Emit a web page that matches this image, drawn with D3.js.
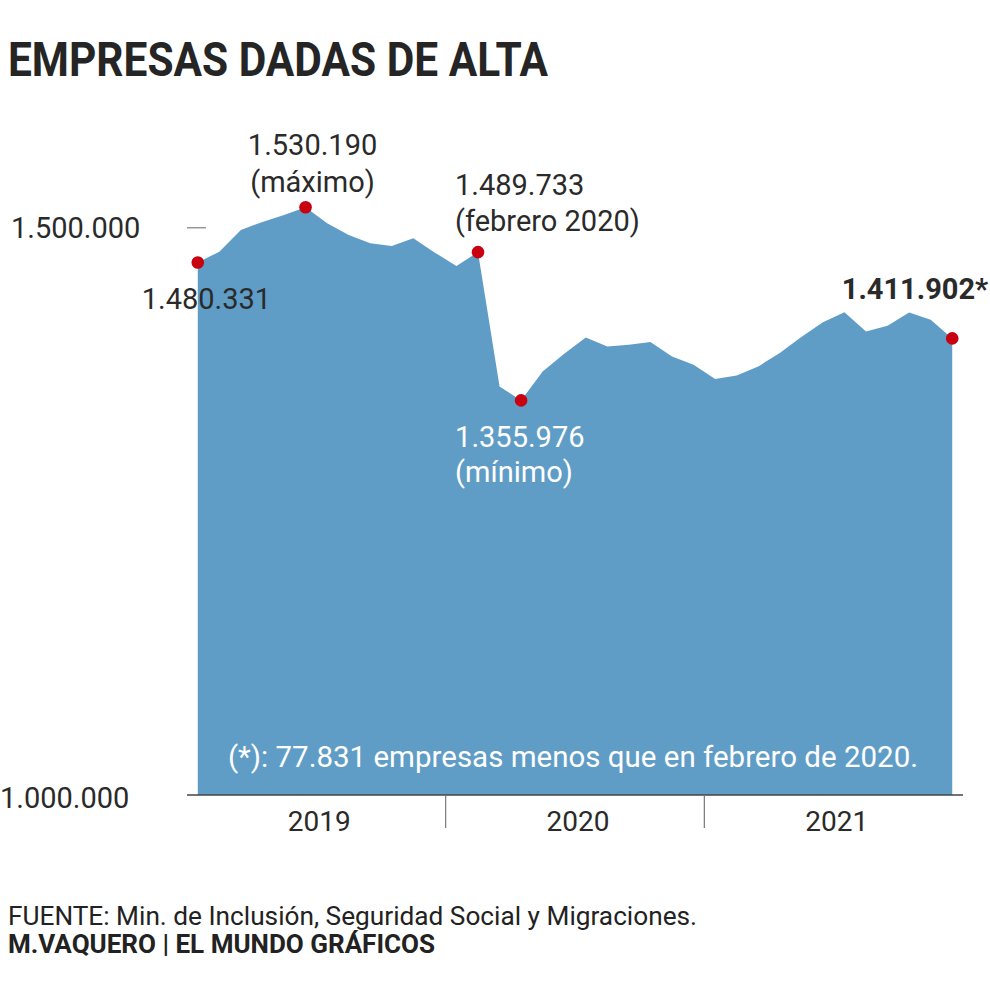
<!DOCTYPE html>
<html>
<head>
<meta charset="utf-8">
<script src="https://cdn.jsdelivr.net/npm/d3@7"></script>
<style>
  html, body { margin: 0; padding: 0; background: #fff; }
  svg { display: block; font-family: Roboto, "Noto Sans", sans-serif; }
</style>
</head>
<body>
<div id="chart"></div>
<script>
// Empresas dadas de alta en la Seguridad Social, enero 2019 - diciembre 2021 (mensual)
const months = [
  '2019-01','2019-02','2019-03','2019-04','2019-05','2019-06',
  '2019-07','2019-08','2019-09','2019-10','2019-11','2019-12',
  '2020-01','2020-02','2020-03','2020-04','2020-05','2020-06',
  '2020-07','2020-08','2020-09','2020-10','2020-11','2020-12',
  '2021-01','2021-02','2021-03','2021-04','2021-05','2021-06',
  '2021-07','2021-08','2021-09','2021-10','2021-11','2021-12'
];
const companies = [
  1480331, 1490200, 1509740, 1516950, 1523250, 1530190,
  1515780, 1505240, 1497760, 1495330, 1502270, 1489290,
  1477310, 1489733, 1368590, 1355976, 1382100, 1398040,
  1412730, 1404620, 1406150, 1408580, 1395610, 1388130,
  1375250, 1378500, 1386600, 1398670, 1413090, 1426600,
  1435610, 1418130, 1423270, 1435250, 1428670, 1411902
];
const years = ['2019', '2020', '2021'];
const yTicks = [1000000, 1500000];
// months that get a red dot
const marked = ['2019-01', '2019-06', '2020-02', '2020-04', '2021-12'];

const W = 990, H = 994;
const fmt = d3.formatLocale({ decimal: ',', thousands: '.', grouping: [3], currency: ['', '€'] }).format(',d');

const svg = d3.select('#chart').append('svg')
  .attr('width', W).attr('height', H)
  .attr('viewBox', `0 0 ${W} ${H}`);

svg.append('rect').attr('width', W).attr('height', H).attr('fill', '#fff');

// title
svg.append('text')
  .attr('x', 8).attr('y', 76)
  .attr('font-size', 48).attr('font-weight', 700).attr('fill', '#252525')
  .attr('textLength', 540).attr('lengthAdjust', 'spacingAndGlyphs')
  .text('EMPRESAS DADAS DE ALTA');

// scales: one band per month, points sit in the middle of each month
const x = d3.scaleLinear().domain([0, months.length]).range([187, 963]);
const y = d3.scaleLinear().domain([1000000, 1530190]).range([795, 207.3]);
const xm = i => x(i + 0.5);

const area = d3.area()
  .x((d, i) => xm(i))
  .y0(y(1000000))
  .y1(d => y(d));

svg.append('path')
  .datum(companies)
  .attr('d', area)
  .attr('fill', '#5f9dc6');

// footnote inside the area
svg.append('text')
  .attr('x', 228).attr('y', 767)
  .attr('font-size', 29).attr('fill', '#fff')
  .attr('textLength', 690).attr('lengthAdjust', 'spacingAndGlyphs')
  .text('(*): 77.831 empresas menos que en febrero de 2020.');

// x axis baseline + year separators
svg.append('line')
  .attr('x1', x(0)).attr('x2', x(months.length))
  .attr('y1', y(1000000)).attr('y2', y(1000000))
  .attr('stroke', '#444').attr('stroke-width', 1.5);

[12, 24].forEach(i => {
  svg.append('line')
    .attr('x1', x(i)).attr('x2', x(i))
    .attr('y1', y(1000000)).attr('y2', y(1000000) + 33)
    .attr('stroke', '#777').attr('stroke-width', 1.2);
});

svg.selectAll('.year').data(years).join('text')
  .attr('class', 'year')
  .attr('x', (d, i) => x(i * 12 + 6) + 3)
  .attr('y', 831)
  .attr('text-anchor', 'middle')
  .attr('font-size', 28).attr('fill', '#2a2a2a')
  .text(d => d);

// y tick labels (the top one sits a little above its value in the original)
yTicks.forEach(v => {
  const ty = v === 1000000 ? y(v) + 13 : y(v) - 2.5;
  svg.append('text')
    .attr('x', v === 1000000 ? 0 : 11).attr('y', ty)
    .attr('font-size', 29).attr('fill', '#2a2a2a')
    .text(fmt(v));
  if (v !== 1000000) {
    svg.append('line')
      .attr('x1', x(0)).attr('x2', x(0) + 19)
      .attr('y1', ty - 10.5).attr('y2', ty - 10.5)
      .attr('stroke', '#888').attr('stroke-width', 1.3);
  }
});

// red dots
const markIdx = marked.map(m => months.indexOf(m));
svg.selectAll('.dot').data(markIdx).join('circle')
  .attr('class', 'dot')
  .attr('cx', i => xm(i)).attr('cy', i => y(companies[i]))
  .attr('r', 6.3)
  .attr('fill', '#c8000f');

// annotations
function note(i, dx, lines, opts = {}) {
  const px = xm(i), py = y(companies[i]);
  lines.forEach(([dy, txt]) => {
    svg.append('text')
      .attr('x', px + dx).attr('y', py + dy)
      .attr('text-anchor', opts.anchor || 'start')
      .attr('font-size', 29)
      .attr('font-weight', opts.bold ? 700 : 400)
      .attr('fill', opts.fill || '#2a2a2a')
      .text(txt);
  });
}
const iFirst = markIdx[0], iMax = markIdx[1], iFeb = markIdx[2], iMin = markIdx[3], iLast = markIdx[4];
note(iFirst, -56, [[46, fmt(companies[iFirst])]]);
note(iMax, 7, [[-52, fmt(companies[iMax])], [-15, '(máximo)']], { anchor: 'middle' });
note(iFeb, -23, [[-57, fmt(companies[iFeb])], [-21, '(febrero 2020)']]);
note(iMin, -66, [[47, fmt(companies[iMin])], [82, '(mínimo)']], { fill: '#fff' });
note(iLast, 36, [[-39, fmt(companies[iLast]) + '*']], { anchor: 'end', bold: true });

// footer
svg.append('text')
  .attr('x', 8).attr('y', 925)
  .attr('font-size', 25).attr('fill', '#222')
  .attr('textLength', 689).attr('lengthAdjust', 'spacingAndGlyphs')
  .text('FUENTE: Min. de Inclusión, Seguridad Social y Migraciones.');
svg.append('text')
  .attr('x', 8).attr('y', 953)
  .attr('font-size', 25).attr('font-weight', 700).attr('fill', '#222')
  .attr('textLength', 427).attr('lengthAdjust', 'spacingAndGlyphs')
  .text('M.VAQUERO | EL MUNDO GRÁFICOS');
</script>
</body>
</html>
